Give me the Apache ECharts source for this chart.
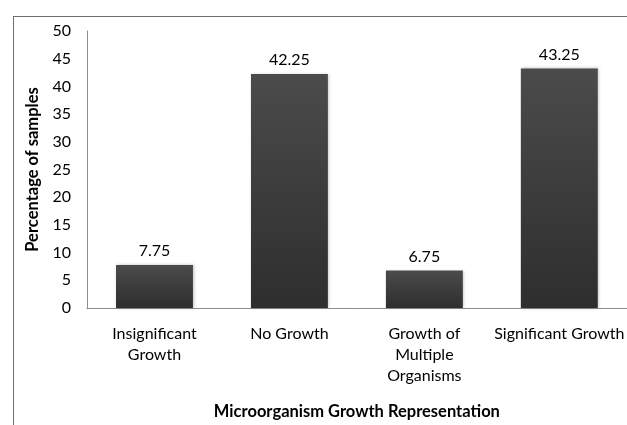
<!DOCTYPE html>
<html>
<head>
<meta charset="utf-8">
<script src="https://cdn.jsdelivr.net/npm/echarts@6/dist/echarts.min.js"></script>
<style>
  html, body { margin: 0; padding: 0; background: #ffffff; }
  #chart { width: 627px; height: 425px; }
</style>
</head>
<body>
<div id="chart"></div>
<script>
// categories and values
const categories = ['Insignificant\nGrowth', 'No Growth', 'Growth of\nMultiple\nOrganisms', 'Significant Growth'];
const percentages = [7.75, 42.25, 6.75, 43.25];
const yTicks = { min: 0, max: 50, interval: 5 };

const font = 'Lato, "Open Sans", sans-serif';

const chart = echarts.init(document.getElementById('chart'), null, { renderer: 'canvas' });

const option = {
    backgroundColor: '#ffffff',
    animation: false,
    // frame: only top and left edges are visible
    graphic: [
        { type: 'line', shape: { x1: 13, y1: 16.5, x2: 627, y2: 16.5 }, style: { stroke: '#707070', lineWidth: 1 } },
        { type: 'line', shape: { x1: 13.5, y1: 16, x2: 13.5, y2: 425 }, style: { stroke: '#707070', lineWidth: 1 } }
    ],
    grid: { left: 87, right: -3, top: 31, bottom: 111, containLabel: false },
    xAxis: {
        type: 'category',
        data: categories,
        name: 'Microorganism Growth Representation',
        nameLocation: 'middle',
        nameGap: 95,
        nameTextStyle: { fontFamily: font, fontSize: 16.5, fontWeight: 'bold', color: '#000' },
        axisLine: { lineStyle: { color: '#8c8c8c', width: 1 } },
        axisTick: { show: false },
        axisLabel: {
            interval: 0,
            fontFamily: font,
            fontSize: 16,
            color: '#000',
            lineHeight: 21,
            margin: 15
        }
    },
    yAxis: {
        type: 'value',
        min: yTicks.min,
        max: yTicks.max,
        interval: yTicks.interval,
        name: 'Percentage of samples',
        nameLocation: 'middle',
        nameGap: 40,
        nameTextStyle: { fontFamily: font, fontSize: 16.5, fontWeight: 'bold', color: '#000' },
        axisLine: { show: true, lineStyle: { color: '#8c8c8c', width: 1 } },
        axisTick: { show: false },
        splitLine: { show: false },
        axisLabel: { fontFamily: font, fontSize: 16, color: '#000', margin: 16 }
    },
    series: [
        {
            type: 'bar',
            data: percentages,
            barWidth: '57%',
            itemStyle: {
                // 柱子渐变：上浅下深
                color: new echarts.graphic.LinearGradient(0, 0, 0, 1, [
                    { offset: 0, color: '#4b4b4b' },
                    { offset: 1, color: '#2e2e2e' }
                ]),
                shadowColor: 'rgba(0,0,0,0.25)',
                shadowBlur: 3,
                shadowOffsetX: 1,
                shadowOffsetY: 0
            },
            label: {
                show: true,
                position: 'top',
                distance: 6,
                fontFamily: font,
                fontSize: 16,
                color: '#000',
                formatter: (p) => p.value.toFixed(2)
            }
        }
    ]
};

chart.setOption(option);
</script>
</body>
</html>
